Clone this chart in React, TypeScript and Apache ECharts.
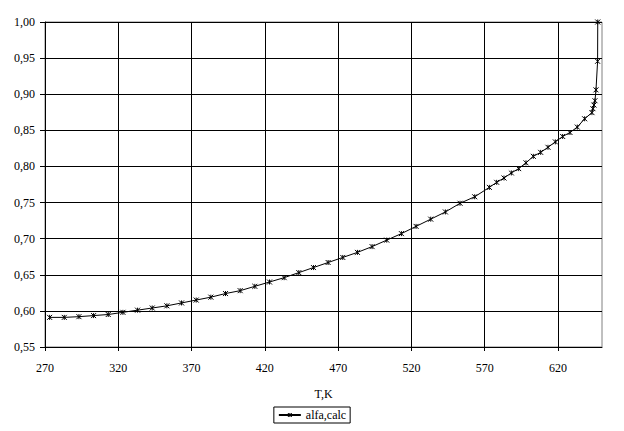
import React, { useEffect, useRef } from "react";
import * as echarts from "echarts";

const temperatures = [
  273.15, 283.15, 293.15, 303.15, 313.15, 323.15, 333.15, 343.15, 353.15, 363.15,
  373.15, 383.15, 393.15, 403.15, 413.15, 423.15, 433.15, 443.15, 453.15, 463.15,
  473.15, 483.15, 493.15, 503.15, 513.15, 523.15, 533.15, 543.15, 553.15, 563.15,
  573.15, 578.15, 583.15, 588.15, 593.15, 598.15, 603.15, 608.15, 613.15, 618.15,
  623.15, 628.15, 633.15, 638.15, 643.15, 643.8, 644.5, 645.2, 645.9, 647.0, 647.1,
];
const alfaCalc = [
  0.591, 0.591, 0.592, 0.5935, 0.595, 0.598, 0.601, 0.604, 0.607, 0.611,
  0.615, 0.619, 0.624, 0.628, 0.634, 0.64, 0.646, 0.653, 0.66, 0.667,
  0.674, 0.681, 0.689, 0.698, 0.707, 0.717, 0.727, 0.737, 0.749, 0.758,
  0.771, 0.778, 0.784, 0.791, 0.797, 0.805, 0.814, 0.8195, 0.8265, 0.834,
  0.8415, 0.847, 0.8545, 0.866, 0.8745, 0.88, 0.885, 0.891, 0.906, 0.9456, 1.0,
];
const seriesName = "alfa,calc";
const xAxisTitle = "T,K";

const FONT = "'Liberation Serif', 'Times New Roman', serif";
const STAR = "path://M0,0L10,10M10,0L0,10M5,0L5,10";

export default function App() {
  const ref = useRef<HTMLDivElement>(null);
  useEffect(() => {
    document.body.style.margin = "0";
    if (!ref.current) return;
    const chart = echarts.init(ref.current, null, { renderer: "svg" });
    const data = temperatures.map((t, i) => [t, alfaCalc[i]]);
    chart.setOption({
      animation: false,
      backgroundColor: "#fff",
      textStyle: { fontFamily: FONT },
      grid: {
        left: 45,
        right: 22,
        top: 22,
        bottom: 84,
        show: true,
        borderColor: "#808080",
        borderWidth: 1,
        backgroundColor: "transparent",
      },
      xAxis: {
        type: "value",
        min: 270,
        max: 650,
        interval: 50,
        name: xAxisTitle,
        nameLocation: "middle",
        nameGap: 41,
        nameTextStyle: { color: "#000", fontSize: 12, fontFamily: FONT },
        axisLine: { show: true, lineStyle: { color: "#000", width: 1 } },
        axisTick: { show: true, length: 4, lineStyle: { color: "#000" } },
        axisLabel: {
          color: "#000",
          fontSize: 12,
          fontFamily: FONT,
          margin: 15,
          showMaxLabel: false,
          formatter: (v: number) => (v === 650 ? "" : String(v)),
        },
        splitLine: {
          show: true,
          showMaxLine: false,
          lineStyle: { color: "#000", width: 1 },
        },
      },
      yAxis: {
        type: "value",
        min: 0.55,
        max: 1.0,
        interval: 0.05,
        axisLine: { show: true, lineStyle: { color: "#000", width: 1 } },
        axisTick: { show: true, length: 5, lineStyle: { color: "#000" } },
        axisLabel: {
          color: "#000",
          fontSize: 12,
          fontFamily: FONT,
          margin: 10,
          formatter: (v: number) => v.toFixed(2).replace(".", ","),
        },
        splitLine: { show: true, lineStyle: { color: "#000", width: 1 } },
      },
      legend: {
        show: true,
        bottom: 8,
        left: "center",
        orient: "horizontal",
        borderColor: "#000",
        borderWidth: 1,
        padding: [2, 4, 2, 4],
        itemWidth: 22,
        itemHeight: 5,
        itemGap: 4,
        textStyle: { color: "#000", fontSize: 12, fontFamily: FONT },
        itemStyle: { color: "transparent", borderColor: "#000", borderWidth: 1 },
        data: [seriesName],
      },
      series: [
        {
          type: "line",
          name: seriesName,
          data,
          showSymbol: true,
          symbol: STAR,
          symbolSize: 5,
          lineStyle: { color: "#000", width: 1 },
          itemStyle: { color: "transparent", borderColor: "#000", borderWidth: 1 },
        },
      ],
    });
    return () => chart.dispose();
  }, []);
  return <div ref={ref} style={{ width: 624, height: 431 }} />;
}
